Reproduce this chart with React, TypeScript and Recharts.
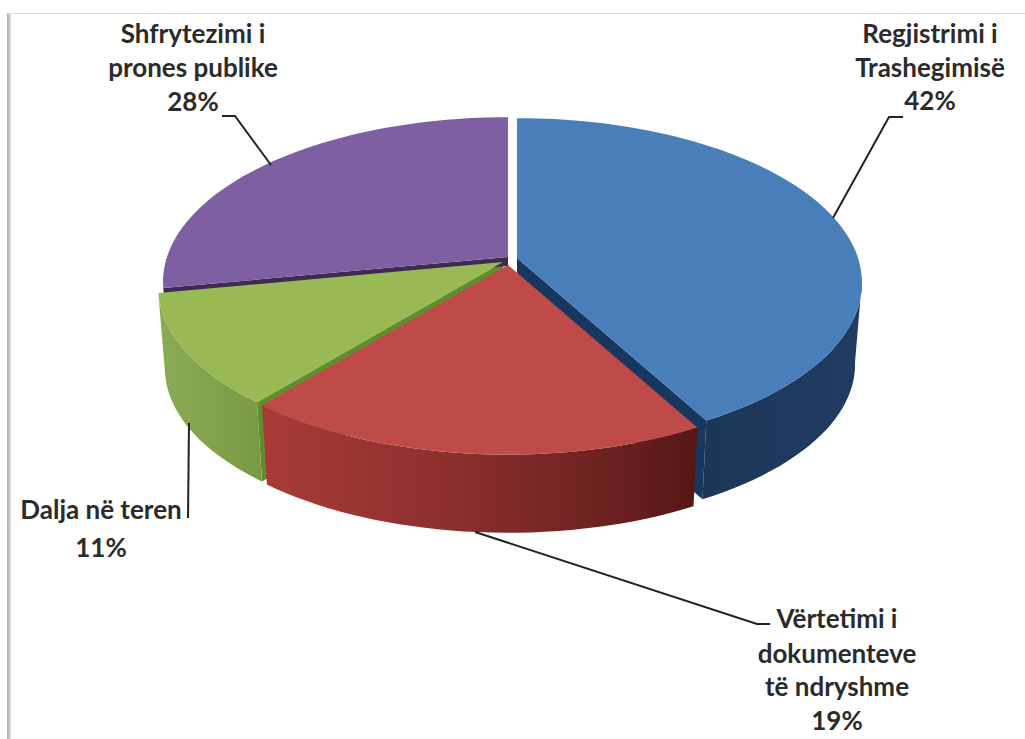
import {PieChart, Pie} from 'recharts';

const categories = ['Regjistrimi i Trashegimisë', 'Vërtetimi i dokumenteve të ndryshme', 'Dalja në teren', 'Shfrytezimi i prones publike'];
const shares = [42, 19, 11, 28];
const labelRows = [
    ['Regjistrimi i', 'Trashegimisë', '42%'],
    ['Vërtetimi i', 'dokumenteve', 'të ndryshme', '19%'],
    ['Dalja në teren', '11%'],
    ['Shfrytezimi i', 'prones publike', '28%'],
];

const pieData = categories.map((name, i) => ({name, value: shares[i]}));

// look of each slice, same order as categories
const topColors = ['#4a7ebb', '#be4b48', '#98b954', '#7d5fa2'];
const sideFills = ['url(#blueSide)', 'url(#redSide)', 'url(#greenSide)', 'none'];
const wallColors = ['#17375e', 'none', '#5f8f2c', '#3f2a55'];
const wallEdge = ['end', '', 'start', 'start'];
const wallDepth = [82, 0, 82, 9];
const explode = [[7, -2], [-2, 5], [-7, 2], [-2, -3]];

// where the labels and leader lines go
const labelX = [930, 837, 101, 193];
const labelBase = [[43, 77, 110], [628, 663, 696, 730], [519, 557], [43, 77, 111]];
const leaders = [
    '903,117 889,117 833,218',
    '770,624 757,624 475,532',
    '189,423 188,518',
    '222,116 235,116 271,165',
];

const CX = 510;
const CY = 260;
const RADIUS = 341;
const TILT = 0.472;
const PERSPECTIVE = 0.151;
const DEPTH = 82;
const BOTTOM_SCALE = 0.98;

// disc point -> screen, with a bit of perspective so the front is bigger than the back
function project(theta: number, ox: number, oy: number, drop = 0) {
    const rad = (theta * Math.PI) / 180;
    const u = Math.sin(rad);
    const v = -Math.cos(rad);
    const w = 1 / (1 - PERSPECTIVE * v);
    const s = 1 - ((1 - BOTTOM_SCALE) * drop) / DEPTH;
    return [ox + s * u * w * RADIUS, oy + drop + s * v * w * RADIUS * TILT];
}

function arc(from: number, to: number, ox: number, oy: number, drop = 0) {
    const pts = [];
    const steps = Math.max(2, Math.ceil(Math.abs(to - from) / 2));
    for (let i = 0; i <= steps; i++) {
        pts.push(project(from + ((to - from) * i) / steps, ox, oy, drop));
    }
    return pts;
}

const toPath = (pts: number[][]) => 'M' + pts.map((p) => p[0].toFixed(1) + ',' + p[1].toFixed(1)).join('L') + 'Z';

function sliceInfo(props: any) {
    const i = categories.indexOf(props.name);
    return {
        i,
        from: 90 - props.startAngle,
        to: 90 - props.endAngle,
        ox: props.cx + explode[i][0],
        oy: props.cy + explode[i][1],
    };
}

function WallShape(props: any) {
    const {i, from, to, ox, oy} = sliceInfo(props);
    if (!wallEdge[i]) return <g/>;
    const theta = wallEdge[i] === 'end' ? to : from;
    const d = wallDepth[i];
    const pts = [[ox, oy], project(theta, ox, oy), project(theta, ox, oy, d), [ox, oy + d]];
    return <path d={toPath(pts)} fill={wallColors[i]}/>;
}

function SideShape(props: any) {
    const {i, from, to, ox, oy} = sliceInfo(props);
    if (sideFills[i] === 'none') return <g/>;
    const a = Math.max(from, 98);
    const pts = [...arc(a, to, ox, oy), ...arc(to, a, ox, oy, DEPTH)];
    return <path d={toPath(pts)} fill={sideFills[i]}/>;
}

function TopShape(props: any) {
    const {i, from, to, ox, oy} = sliceInfo(props);
    return <path d={toPath([[ox, oy], ...arc(from, to, ox, oy)])} fill={topColors[i]}/>;
}

function SliceLabel(props: any) {
    const i = categories.indexOf(props.name);
    return (
        <g>
            <polyline points={leaders[i]} fill="none" stroke="#222" strokeWidth={2}/>
            {labelRows[i].map((row, r) => (
                <text
                    key={row}
                    x={labelX[i]}
                    y={labelBase[i][r]}
                    textAnchor="middle"
                    fontFamily="Lato, sans-serif"
                    fontWeight={700}
                    fontSize={26}
                    fill="#2b2b2b"
                >
                    {row}
                </text>
            ))}
        </g>
    );
}

const pieProps = {
    data: pieData,
    dataKey: 'value',
    nameKey: 'name',
    cx: CX,
    cy: CY,
    outerRadius: RADIUS,
    startAngle: 90,
    endAngle: -270,
    stroke: 'none',
    isAnimationActive: false,
};

export default function App() {
    return (
        <div style={{position: 'absolute', left: 0, top: 0, width: 1025, height: 739, background: '#fff', overflow: 'hidden'}}>
            <div style={{position: 'absolute', left: 7, top: 13, width: 4, height: 726, background: 'linear-gradient(to right, #a8a8a8, #e4e4e4)'}}/>
            <div style={{position: 'absolute', left: 7, top: 13, width: 1018, height: 1, background: '#dcdcdc'}}/>
            <PieChart width={1025} height={739} margin={{top: 0, right: 0, bottom: 0, left: 0}} style={{position: 'absolute', left: 0, top: 0}}>
                <defs>
                    <linearGradient id="blueSide" x1="0" y1="0" x2="1" y2="0">
                        <stop offset="0" stopColor="#1c3659"/>
                        <stop offset="1" stopColor="#203c61"/>
                    </linearGradient>
                    <linearGradient id="redSide" x1="0" y1="0" x2="1" y2="0">
                        <stop offset="0" stopColor="#a83b38"/>
                        <stop offset="0.45" stopColor="#8a2f2d"/>
                        <stop offset="0.8" stopColor="#6b211f"/>
                        <stop offset="1" stopColor="#561714"/>
                    </linearGradient>
                    <linearGradient id="greenSide" x1="0" y1="0" x2="1" y2="0">
                        <stop offset="0" stopColor="#8cab55"/>
                        <stop offset="1" stopColor="#789a45"/>
                    </linearGradient>
                </defs>
                <Pie {...pieProps} shape={WallShape} activeShape={WallShape} inactiveShape={WallShape}/>
                <Pie {...pieProps} shape={SideShape} activeShape={SideShape} inactiveShape={SideShape}/>
                <Pie {...pieProps} shape={TopShape} activeShape={TopShape} inactiveShape={TopShape} label={SliceLabel} labelLine={false}/>
            </PieChart>
        </div>
    );
}
